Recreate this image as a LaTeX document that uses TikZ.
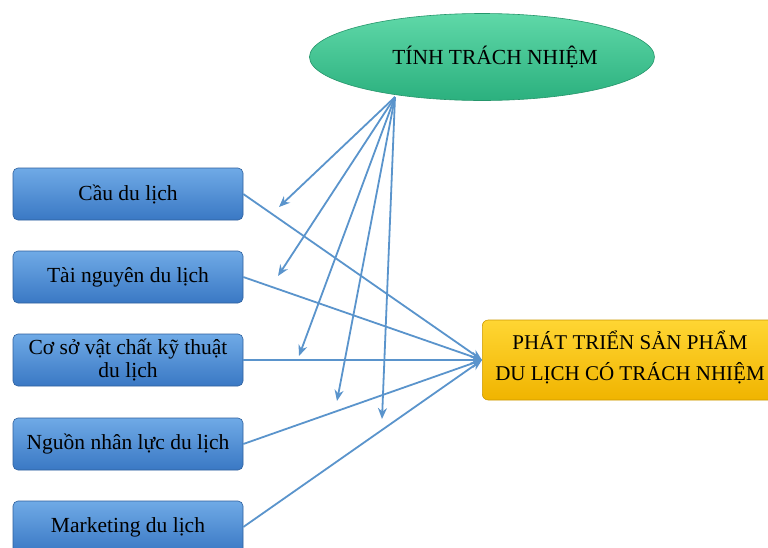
\documentclass[tikz,border=0pt]{standalone}
\usepackage{fontspec}
\setmainfont{Liberation Serif}
\usetikzlibrary{shapes.geometric,arrows.meta}
\definecolor{arr}{HTML}{5A94CC}
\definecolor{bluetop}{HTML}{6FAAE6}
\definecolor{bluebot}{HTML}{3A78C4}
\definecolor{greentop}{HTML}{5FD8A8}
\definecolor{greenbot}{HTML}{2BB07E}
\definecolor{yeltop}{HTML}{FFD633}
\definecolor{yelbot}{HTML}{F0B400}
\tikzset{
  leftbox/.style={rectangle, rounded corners=5pt, minimum width=230pt, minimum height=52pt,
    top color=bluetop, bottom color=bluebot, draw=bluebot!80!black, line width=0.6pt,
    font=\fontsize{21.5}{23}\selectfont, align=center, inner sep=1pt},
  conn/.style={draw=arr, line width=1.8pt, -{Stealth[length=11pt,width=9pt]}},
}
\begin{document}
\begin{tikzpicture}[x=1pt,y=-1pt]
\useasboundingbox[fill=white] (0,0) rectangle (768,547);
\node[ellipse, minimum width=345pt, minimum height=87pt, top color=greentop, bottom color=greenbot,
  draw=greenbot!85!black, line width=0.6pt, font=\fontsize{21.5}{23}\selectfont] (tn) at (482,57) {\hspace*{26pt}TÍNH TRÁCH NHIỆM};
\node[rectangle, rounded corners=6pt, minimum width=300pt, minimum height=80pt, anchor=west,
  top color=yeltop, bottom color=yelbot, draw=yelbot!85!black, line width=0.6pt] (pt) at (482,360) {};
\node[font=\fontsize{21}{31}\selectfont, align=center] (ptt) at (630,357) {PHÁT TRIỂN SẢN PHẨM\\DU LỊCH CÓ TRÁCH NHIỆM};
\node[leftbox] (b1) at (128,194) {Cầu du lịch};
\node[leftbox] (b2) at (128,277) {Tài nguyên du lịch};
\node[leftbox] (b3) at (128,360) {Cơ sở vật chất kỹ thuật\\du lịch};
\node[leftbox] (b4) at (128,444) {Nguồn nhân lực du lịch};
\node[leftbox] (b5) at (128,527) {Marketing du lịch};
\coordinate (src) at (395,97);
\coordinate (a1) at (279,207);
\coordinate (a2) at (278,276);
\coordinate (a3) at (299,356);
\coordinate (a4) at (337,401);
\coordinate (a5) at (382,419);
\foreach \b in {b1,b2,b3,b4,b5} \draw[conn] (\b.east) -- (pt.west);
\foreach \a in {a1,a2,a3,a4,a5} \draw[conn] (src) -- (\a);
\end{tikzpicture}
\end{document}
